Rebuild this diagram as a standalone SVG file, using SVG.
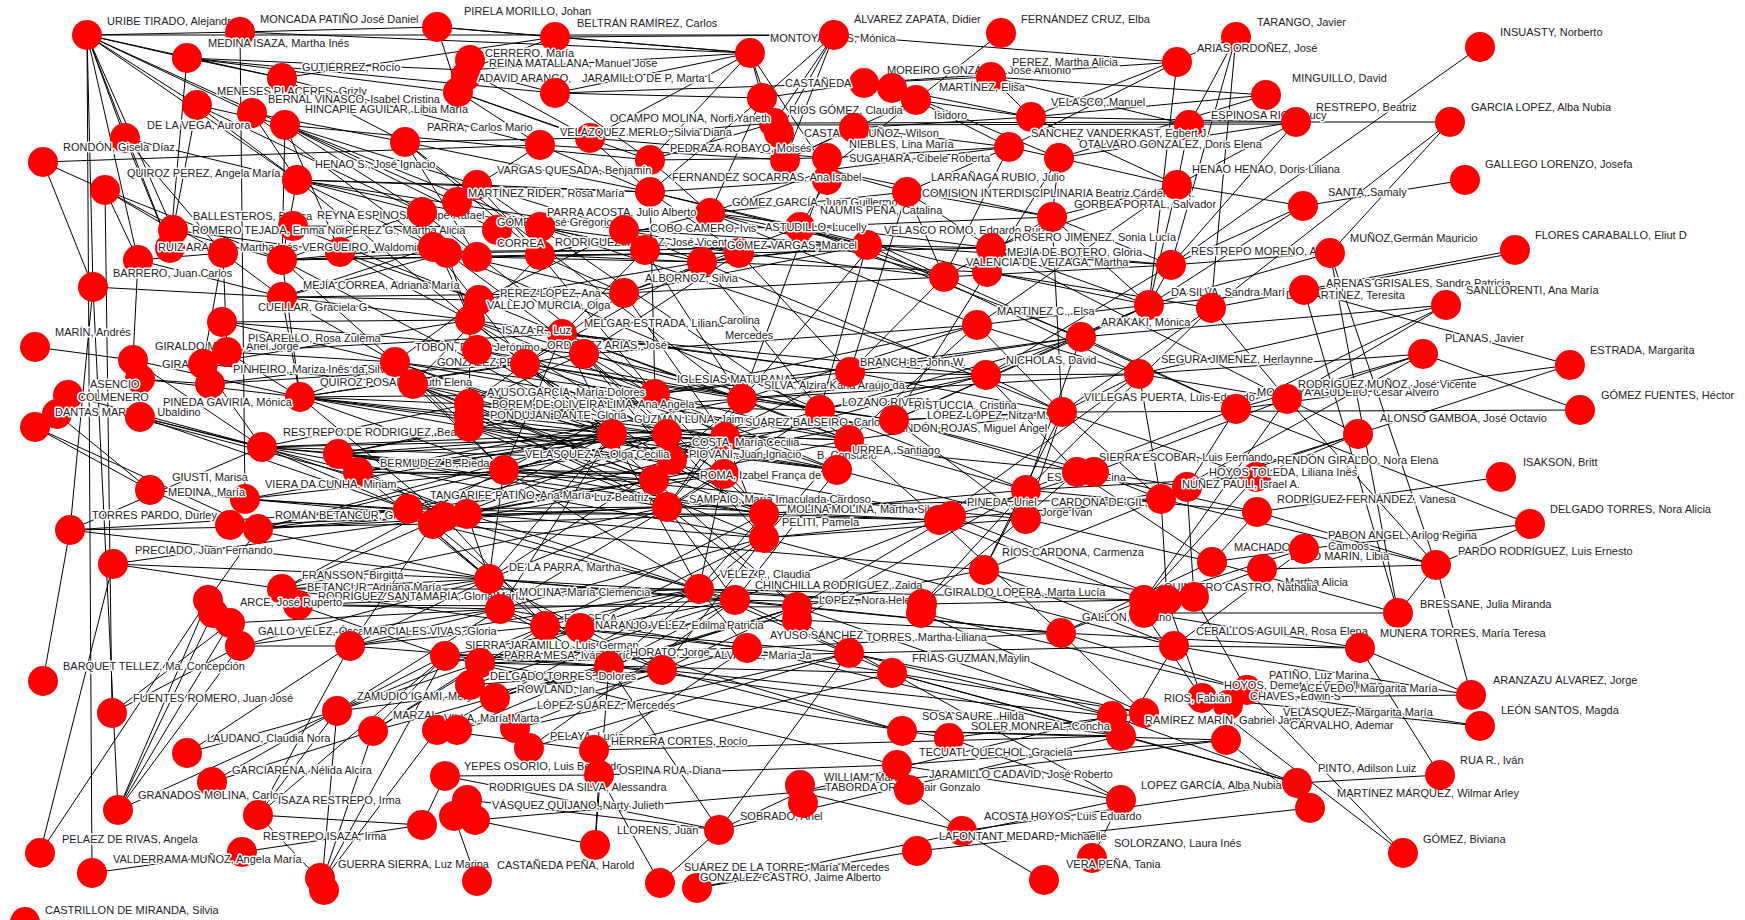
<svg xmlns="http://www.w3.org/2000/svg" width="1745" height="920" viewBox="0 0 1745 920">
<style>
.n circle{fill:#f00}
.n text{font-family:"Liberation Sans",Arial,sans-serif;font-size:11px;fill:#222;stroke:#fff;stroke-width:3px;paint-order:stroke;stroke-linejoin:round}
#connectors path{fill:none;stroke:#000;stroke-width:1}
</style>
<rect width="1745" height="920" fill="#fff"/>
<g id="connectors">
<path d="M87 35L240 32M87 35L834 35M87 35L187 58M87 35L282 78M87 35L197 105M87 35L252 113M87 35L285 125M87 35L297 180M87 35L125 138M87 35L173 230M87 35L93 287M87 35L92 873M87 35L138 260M87 35L170 248M240 32L245 499M240 32L750 53M240 32L437 27M187 58L466 70M187 58L458 92M187 58L282 78M187 58L170 248M187 58L555 93M282 78L405 142M282 78L555 37M282 78L540 145M197 105L297 180M197 105L173 230M197 105L285 125M197 105L422 212M252 113L405 142M252 113L433 247M252 113L297 180M285 125L422 212M285 125L477 185M285 125L540 227M285 125L650 160M285 125L497 230M285 125L340 252M285 125L282 260M285 125L457 202M125 138L297 180M125 138L223 253M125 138L170 248M405 142L590 138M405 142L650 192M405 142L540 255M405 142L477 257M43 162L540 145M43 162L105 190M43 162L93 287M105 190L173 230M105 190L138 260M105 190L223 253M105 190L112 713M105 190L282 260M297 180L477 185M297 180L540 227M297 180L433 247M297 180L422 212M297 180L650 192M297 180L282 260M297 180L624 230M173 230L282 260M173 230L340 252M293 226L540 227M293 226L479 300M282 260L447 253M282 260L477 257M282 260L433 247M282 260L540 255M282 260L422 212M282 260L300 397M340 252L645 250M340 252L479 300M138 260L282 297M138 260L133 360M138 260L223 253M93 287L282 297M93 287L70 530M93 287L118 810M282 297L433 247M282 297L479 300M282 297L447 253M282 297L624 293M282 297L470 320M282 297L395 362M223 253L282 297M223 253L227 352M223 253L203 364"/>
<path d="M437 27L555 37M437 27L458 92M437 27L750 53M555 37L834 35M555 37L466 70M555 37L750 53M466 70L750 53M466 70L555 93M466 70L590 138M458 92L650 160M458 92L590 138M458 92L540 145M555 93L750 53M555 93L864 83M555 93L762 98M555 93L650 160M750 53L774 123M750 53L762 98M750 53L650 160M750 53L590 138M750 53L827 170M834 35L774 123M834 35L779 133M834 35L785 160M834 35L762 98M834 35L1177 62M864 83L1031 117M864 83L1177 62M864 83L762 98M864 83L991 77M762 98L650 192M762 98L710 213M774 123L1296 122M774 125L1296 124M774 123L650 160M774 123L590 138M854 128L1009 147M854 128L785 160M854 128L1031 117M590 138L650 192M590 138L827 158M540 145L785 160M540 145L650 192M540 145L477 185M827 170L1009 147M827 170L710 213M827 170L907 192M827 170L1052 217M827 180L650 192M827 180L800 227M650 160L827 158M650 160L710 213M650 192L867 245M650 192L800 227M650 192L739 253M477 185L650 192M477 185L624 230M477 185L540 255M710 213L944 277M710 213L867 245M710 213L540 255M710 213L991 248M800 227L944 277M800 227L987 272M800 227L624 230M800 227L1052 217M867 245L1171 265M867 245L645 250M867 245L702 262M867 245L991 248M540 227L645 250M540 227L702 262M540 227L739 253M540 255L702 262M540 255L624 293M540 255L739 253M624 230L867 245M624 230L739 253M645 250L874 243M739 253L944 277M739 253L991 248M702 262L987 272M702 262L874 243M447 253L645 250M447 253L624 293M477 257L702 262M477 257L739 253M624 293L867 245M624 293L739 253M624 293L944 277M624 293L800 227M479 300L702 262M479 300L624 230"/>
<path d="M1001 33L916 100M1236 37L1189 125M1236 37L1171 265M1236 37L1211 308M1236 37L1031 117M1177 62L1149 305M1177 62L1009 147M991 77L1031 117M991 77L1189 125M892 88L1009 147M892 88L1059 158M916 100L1031 117M916 100L785 160M916 100L827 170M1266 95L1031 117M1266 95L1059 158M1266 95L991 77M1031 117L1177 185M1031 117L1296 122M1189 125L1177 185M1296 122L1450 122M1296 122L1171 265M1296 122L1059 158M1296 122L1177 185M1009 147L1059 158M1009 147L944 277M1009 147L907 192M1009 147L827 158M1059 158L1052 217M1059 158L987 272M1059 158L1177 185M1177 185L1052 217M1177 185L1149 305M1177 185L991 248M907 192L991 248M907 192L944 277M907 192L1052 217M907 192L710 213M1303 206L1465 180M1303 206L1171 265M1303 206L1177 185M1303 206L1149 305M1052 217L944 277M1052 217L1171 265M1052 217L1149 305M991 248L1171 265M991 248L1149 305M944 277L1171 265M944 277L874 243M987 272L1149 305M987 272L1211 308M1171 265L1480 47M1171 265L1149 305M1171 265L1330 253M1149 305L1304 290M1149 305L1330 253M1211 308L1450 122M1211 308L1304 290M1304 290L1515 250M1304 292L1515 253M1304 290L1570 365M1330 253L1450 122M1330 253L1436 565M1330 253L1398 613"/>
<path d="M1446 305L1139 374M1446 305L1236 409M1446 305L1287 399M1446 305L1081 337M1423 354L1580 410M1423 354L1287 399M1423 354L1236 409M1423 354L1161 499M1423 354L1139 374M1570 365L1358 434M1570 365L1236 409M1580 410L1062 412M1358 434L1256 477M1358 434L1287 399M1358 434L1187 487M1358 434L1161 499M1501 477L1257 512M1530 524L1236 409M1530 524L1304 549M1530 524L1436 565M1436 565L1257 512M1436 565L1262 569M1436 565L1161 499M1436 565L1398 613M1436 565L1471 695M1436 565L1287 399M1398 613L1304 290M1398 613L1144 613M1398 613L1212 562"/>
<path d="M977 325L1139 374M977 325L1062 412M977 325L849 440M977 325L742 399M977 325L1149 305M1149 305L1081 337M1149 305L986 375M1211 308L1062 412M1211 308L1287 399M1081 337L894 420M1081 337L1236 409M1081 337L1026 490M1081 337L850 372M986 375L1062 412M986 375L1139 374M986 375L742 399M986 375L1077 472M986 375L820 410M1139 374L1287 399M1139 374L1062 412M1139 374L1161 499M1139 374L939 520M1062 412L1161 499M1062 412L849 440M1062 412L1026 519M1062 412L1256 477M1062 412L984 570M1062 412L894 420M1236 409L1026 490M1236 409L1187 487M1287 399L1094 472M1287 399L1144 600M894 420L1077 472M894 420L1026 519M894 420L742 399M894 420L1094 472M1077 472L1257 512M1077 472L922 604M1077 472L1212 562M1094 472L1187 487M1094 472L1161 499M1094 472L939 520M1256 477L1026 490M1256 477L1144 600M1187 487L1026 519M1187 487L1194 597M1161 499L939 520M1161 499L1167 600M1161 499L984 570M1257 512L1026 490M1257 512L1212 562M1026 490L849 440M1026 490L984 570M1026 490L922 604M1026 519L1212 562M1026 519L764 538M939 520L1144 600M939 520L764 514M939 520L1061 633M951 516L1167 600M951 516L797 607M984 570L1194 597M984 570L797 607M984 570L1174 646M1212 562L1061 633M1212 562L1304 549M1262 569L1144 613M1304 549L1144 600M1304 549L1174 646M922 604L1144 600M922 604L735 600M1144 600L1061 633M1194 597L1247 690M1167 600L1202 698"/>
<path d="M470 320L655 394M470 320L742 399M470 320L612 434M562 334L742 399M562 334L850 372M562 334L667 434M562 334L849 440M584 354L820 410M584 354L725 437M584 354L469 404M525 364L742 399M525 364L667 460M525 364L837 470M395 362L655 394M395 362L612 434M395 362L469 427M395 362L300 397M413 384L612 434M413 384L725 437M413 384L504 470M477 350L820 410M477 350L655 394M655 394L850 372M655 394L849 440M655 394L837 470M742 399L849 440M742 399L667 507M850 372L986 375M850 372L667 460M469 404L725 437M469 404L667 434M469 404L820 410M469 427L654 480M469 427L724 474M469 427L837 470M612 434L837 470M612 434L764 514M612 434L489 579M725 437L894 420M725 437L764 538M725 437L504 470M820 410L1026 490M820 410L667 507M849 440L939 520M849 440L764 538M849 440L667 434M667 434L837 470M667 434L504 470M672 460L894 420M672 460L467 514M654 480L849 440M654 480L444 517M667 507L939 520M667 507L489 579M667 507L797 607M837 470L1026 519M837 470L735 600M504 470L724 474M504 470L764 514M504 470L699 589M724 474L951 516M724 474L500 609M764 514L1026 490M764 514L545 626M764 538L939 520M764 538L609 666M467 514L764 514M467 514L699 589M444 517L735 600M444 517L612 434M489 579L797 607M489 579L735 600M699 589L922 604M699 589L892 673M735 600L939 520M735 600L849 653M797 607L1061 633M797 607L609 666M500 609L735 600M500 609L662 670"/>
<path d="M282 260L764 514M300 397L837 470M395 362L849 440M262 447L764 538M408 509L939 520M433 524L984 570M504 470L1026 519M489 579L922 604M612 434L1062 412M655 394L1081 337M742 399L1139 374M725 437L1094 472M667 507L1161 499M699 589L1144 600M735 600L1061 633M764 538L1174 646M797 607L1112 716M500 609L892 673M545 626L902 731M445 656L897 765M480 663L949 738M609 666L1121 736M1026 490L797 620M986 375L672 460M977 325L655 394M1081 337L725 437M850 372L1062 412M470 320L850 372M562 334L986 375M584 354L977 325M525 364L894 420M413 384L764 514M469 427L849 440M338 454L725 437M358 472L742 399M245 499L612 434M258 529L667 507M282 589L699 589M298 605L797 607M113 564L444 517M70 530L262 447M300 397L655 394M227 352L562 334M203 364L470 320M222 322L584 354M405 142L742 399M297 180L612 434M433 247L820 410M422 212L655 394M477 185L849 440M540 227L986 375M624 230L1062 412M710 213L977 325M800 227L1081 337M867 245L1139 374M944 277L1236 409M991 248L1287 399M1052 217L1062 412M1171 265L986 375M1149 305L894 420M1211 308L1026 490M1177 185L977 325M907 192L850 372M827 170L742 399M650 192L655 394M645 250L562 334M702 262L525 364M739 253L584 354M624 293L469 404M479 300L395 362M447 253L470 320M540 255L413 384"/>
<path d="M300 397L667 434M300 397L504 470M300 397L444 517M262 447L467 514M262 447L654 480M262 447L725 437M338 454L667 507M338 454L764 514M338 454L444 517M358 472L612 434M358 472L724 474M358 472L489 579M408 509L612 434M408 509L764 538M408 509L545 626M433 524L724 474M433 524L609 666M433 524L350 646M395 362L672 460M395 362L504 470M413 384L667 507M413 384L654 480M470 320L469 427M470 320L724 474M477 350L667 434M477 350L612 434M525 364L612 434M525 364L654 480M562 334L612 434M562 334L504 470M584 354L672 460M584 354L764 514M469 404L654 480M469 416L742 399M469 416L764 538M469 427L667 507M504 470L667 434M504 470L489 579M467 514L654 480M467 514L500 609M444 517L667 507M444 517L545 626M612 434L699 589M612 434L500 609M655 394L764 514M655 394L504 470M667 434L764 538M672 460L764 514M672 460L489 579M654 480L797 607M667 507L735 600M725 437L667 507M724 474L699 589M742 399L672 460M764 514L699 589M764 538L500 609M489 579L662 670M500 609L609 666M545 626L699 589M580 628L764 538M445 656L735 600M480 663L699 589M609 666L797 607M662 670L764 538M699 589L747 648M735 600L609 666M797 607L662 670M282 589L444 517M282 589L667 507M298 605L489 579M298 605L445 656M245 499L408 509M245 499L467 514M258 529L504 470M230 525L444 517M350 646L489 579M350 646L699 589M240 646L489 579M240 646L500 609M337 711L500 609M337 711L480 663M373 731L545 626M373 731L445 656M470 685L735 600M495 698L797 607M437 730L699 589M457 730L609 666M515 728L662 670M529 748L735 600M594 750L747 648M300 397L612 434M262 447L672 460M338 454L655 394M358 472L667 434M408 509L725 437M433 524L764 514M282 297L300 397M282 260L395 362M340 252L470 320M433 247L525 364M447 253L584 354M479 300L562 334M422 212L470 320M540 255L655 394M645 250L742 399M624 293L725 437M702 262L820 410M739 253L850 372M867 245L820 410M944 277L850 372M987 272L894 420M874 243L742 399"/>
<path d="M35 347L133 360M133 360L300 397M133 360L262 447M140 379L300 397M140 379L210 384M227 352L395 362M227 352L300 397M203 364L262 447M203 364L413 384M210 384L525 364M210 384L395 362M300 397L584 354M300 397L469 404M300 397L525 364M300 397L469 427M68 395L262 447M57 414L150 490M35 427L150 490M35 427L258 529M140 417L262 447M140 417L358 472M140 419L358 476M140 417L408 509M262 447L469 404M262 447L504 470M262 447L408 509M262 447L612 434M338 454L612 434M338 454L504 470M338 454L469 427M358 472L654 480M358 472L467 514M150 490L245 499M150 490L230 525M245 499L504 470M245 499L444 517M230 525L489 579M258 529L467 514M258 529L612 434M258 529L408 509M408 509L667 507M408 509L724 474M408 509L489 579M433 524L667 434M433 524L699 589M70 530L408 509M70 530L433 524M70 530L489 579M70 530L43 681M113 564L489 579M113 564L282 589M113 564L40 853M282 589L504 470M282 589L489 579M282 589L545 626M298 605L699 589M298 605L500 609M208 600L258 529M208 600L40 853M208 600L118 810M222 322L470 320M222 322L395 362"/>
<path d="M240 646L350 646M240 646L118 810M240 646L112 713M213 613L118 810M230 623L118 810M230 623L500 609M350 646L545 626M350 646L500 609M350 646L609 666M350 646L258 815M112 713L230 623M337 711L212 782M337 711L187 753M337 711L258 815M337 711L545 626M337 711L662 670M337 711L445 656M373 731L212 782M373 731L322 882M373 731L609 666M373 731L480 663M187 753L350 646M118 810L337 711M258 815L422 825M258 815L445 656M422 825L242 852M422 825L445 776M322 882L258 815M322 882L337 711M322 882L445 656M322 882L437 730M92 873L242 852"/>
<path d="M545 626L849 653M545 626L747 648M580 628L797 620M797 620L1061 633M797 620L892 673M445 656L747 648M445 656L662 670M480 663L849 653M480 663L609 666M609 666L892 673M609 666L719 830M662 670L1112 716M662 670L902 731M747 648L1121 736M747 648L1061 633M849 653L1144 713M849 653L1112 716M849 653L1174 646M470 685L662 670M495 698L609 666M437 730L594 750M457 730L747 648M515 728L849 653M529 748L849 653M594 750L892 673M594 750L1121 736M445 776L599 775M445 776L719 830M599 775L897 765M467 800L719 830M454 816L595 845M475 820L800 792M595 845L599 775M595 845L609 666M660 883L599 775M660 883L719 830M697 888L917 851M697 888L1121 800M719 830L800 792M719 830L849 653M719 830L1121 736M800 792L1112 716M800 792L962 831M800 792L1226 740M477 881L454 816"/>
<path d="M1061 633L1360 648M1061 633L1247 690M1061 633L1144 713M1144 613L1360 648M1144 613L1202 698M1174 646L1360 648M1174 646L1471 695M1174 646L1121 736M892 673L1121 736M892 673L1121 800M892 673L1144 713M892 673L1297 783M1247 690L1403 853M1247 690L1480 726M1202 698L1471 695M1202 698L1480 726M1202 698L1403 853M1112 716L1297 783M1121 736L1297 783M1226 740L1310 808M902 731L1121 736M902 731L1226 740M949 738L1121 800M949 738L1144 713M897 765L1121 800M897 765L1226 740M909 790L962 831M917 851L1310 808M962 831L1297 783M1044 880L962 831M1092 858L1121 800M1360 648L1471 695M1360 648L1440 775M1297 783L1440 775M921 613L1144 713M921 613L1247 690"/>
</g>
<g id="nodes">
<g id="n001" class="n"><circle cx="87" cy="35" r="15"/><text x="107" y="25">URIBE TIRADO, Alejandro</text></g>
<g id="n002" class="n"><circle cx="240" cy="32" r="15"/><text x="260" y="23">MONCADA PATIÑO José Daniel</text></g>
<g id="n003" class="n"><circle cx="187" cy="58" r="15"/><text x="208" y="47">MEDINA ISAZA, Martha Inés</text></g>
<g id="n004" class="n"><circle cx="282" cy="78" r="15"/><text x="302" y="71">GUTIÉRREZ, Rocío</text></g>
<g id="n005" class="n"><circle cx="197" cy="105" r="15"/><text x="217" y="95">MENESES PLACERES, Grizly</text></g>
<g id="n006" class="n"><circle cx="252" cy="113" r="15"/><text x="268" y="103">BERNAL VINASCO, Isabel Cristina</text></g>
<g id="n007" class="n"><circle cx="285" cy="125" r="15"/><text x="305" y="113">HINCAPIE AGUILAR, Libia María</text></g>
<g id="n008" class="n"><circle cx="125" cy="138" r="15"/><text x="147" y="129">DE LA VEGA, Aurora</text></g>
<g id="n009" class="n"><circle cx="405" cy="142" r="15"/><text x="427" y="131">PARRA, Carlos Mario</text></g>
<g id="n010" class="n"><circle cx="43" cy="162" r="15"/><text x="63" y="151">RONDÓN, Gisela Díaz</text></g>
<g id="n011" class="n"><circle cx="105" cy="190" r="15"/><text x="127" y="177">QUIROZ PEREZ, Angela María</text></g>
<g id="n012" class="n"><circle cx="297" cy="180" r="15"/><text x="315" y="168">HENAO S., José Ignacio</text></g>
<g id="n013" class="n"><circle cx="173" cy="230" r="15"/><text x="193" y="220">BALLESTEROS, Blanca</text></g>
<g id="n014" class="n"><circle cx="293" cy="226" r="15"/><text x="317" y="219">REYNA ESPINOSA, Felipe Rafael</text></g>
<g id="n015" class="n"><circle cx="170" cy="248" r="15"/><text x="192" y="234">ROMERO TEJADA, Emma Norma</text></g>
<g id="n016" class="n"><circle cx="340" cy="252" r="15"/><text x="345" y="234">PÉREZ G., Martha Alicia</text></g>
<g id="n017" class="n"><circle cx="138" cy="260" r="15"/><text x="158" y="251">RUIZ ARANGO, Martha Inés</text></g>
<g id="n018" class="n"><circle cx="282" cy="260" r="15"/><text x="302" y="251">VERGUEIRO, Waldomiro</text></g>
<g id="n019" class="n"><circle cx="223" cy="253" r="15"/></g>
<g id="n020" class="n"><circle cx="93" cy="287" r="15"/><text x="113" y="277">BARRERO, Juan Carlos</text></g>
<g id="n021" class="n"><circle cx="282" cy="297" r="15"/><text x="303" y="289">MEJÍA CORREA, Adriana María</text></g>
<g id="n022" class="n"><circle cx="433" cy="247" r="15"/></g>
<g id="n023" class="n"><circle cx="422" cy="212" r="15"/></g>
<g id="n024" class="n"><circle cx="437" cy="27" r="15"/><text x="464" y="15">PIRELA MORILLO, Johan</text></g>
<g id="n025" class="n"><circle cx="555" cy="37" r="15"/><text x="577" y="27">BELTRÁN RAMÍREZ, Carlos</text></g>
<g id="n026" class="n"><circle cx="470" cy="60" r="15"/><text x="485" y="57">CERRERO, María</text></g>
<g id="n027" class="n"><circle cx="466" cy="76" r="15"/><text x="489" y="67">REINA MATALLANA, Manuel Jose</text></g>
<g id="n028" class="n"><circle cx="458" cy="92" r="15"/><text x="478" y="82">ADAVID ARANGO,</text></g>
<g id="n029" class="n"><circle cx="555" cy="93" r="15"/><text x="582" y="82">JARAMILLO DE P, Marta L</text></g>
<g id="n030" class="n"><circle cx="750" cy="53" r="15"/><text x="770" y="42">MONTOYA RÍOS, Mónica</text></g>
<g id="n031" class="n"><circle cx="834" cy="35" r="15"/><text x="854" y="23">ÁLVAREZ ZAPATA, Didier</text></g>
<g id="n032" class="n"><circle cx="864" cy="83" r="15"/><text x="887" y="74">MOREIRO GONZÁLEZ, José Antonio</text></g>
<g id="n033" class="n"><circle cx="762" cy="98" r="15"/><text x="785" y="87">CASTAÑEDA</text></g>
<g id="n034" class="n"><circle cx="774" cy="123" r="15"/><text x="789" y="114">RIOS GÓMEZ, Claudia</text></g>
<g id="n035" class="n"><circle cx="779" cy="133" r="15"/></g>
<g id="n036" class="n"><text x="804" y="137">CASTAÑO MUÑOZ, Wilson</text><circle cx="854" cy="128" r="15"/></g>
<g id="n037" class="n"><circle cx="590" cy="138" r="15"/><text x="610" y="122">OCAMPO MOLINA, Norfi Yaneth</text></g>
<g id="n038" class="n"><circle cx="540" cy="145" r="15"/><text x="560" y="136">VELÁZQUEZ MERLO, Silvia Diana</text></g>
<g id="n039" class="n"><circle cx="827" cy="158" r="15"/><text x="849" y="148">NIEBLES, Lina María</text></g>
<g id="n040" class="n"><circle cx="827" cy="180" r="15"/><text x="849" y="162">SUGAHARA, Cibele Roberta</text></g>
<g id="n041" class="n"><circle cx="785" cy="160" r="15"/></g>
<g id="n042" class="n"><circle cx="650" cy="160" r="15"/><text x="670" y="152">PEDRAZA ROBAYO, Moisés</text></g>
<g id="n043" class="n"><circle cx="650" cy="192" r="15"/><text x="672" y="181">FERNANDEZ SOCARRAS, Ana Isabel</text></g>
<g id="n044" class="n"><circle cx="477" cy="185" r="15"/><text x="497" y="174">VARGAS QUESADA, Benjamín</text></g>
<g id="n045" class="n"><circle cx="457" cy="202" r="15"/><text x="468" y="197">MARTÍNEZ RIDER, Rosa María</text></g>
<g id="n046" class="n"><circle cx="710" cy="213" r="15"/><text x="732" y="206">GÓMEZ GARCÍA, Juan Guillermo</text></g>
<g id="n047" class="n"><circle cx="800" cy="227" r="15"/><text x="820" y="214">NAUMIS PEÑA, Catalina</text></g>
<g id="n048" class="n"><circle cx="867" cy="245" r="15"/><text x="884" y="234">VELASCO ROMO, Edgardo Ruiz</text></g>
<g id="n049" class="n"><circle cx="497" cy="230" r="15"/><text x="497" y="226">GÓMEZ, José Gregorio</text></g>
<g id="n050" class="n"><circle cx="540" cy="227" r="15"/><text x="547" y="216">PARRA ACOSTA, Julio Alberto</text></g>
<g id="n051" class="n"><circle cx="540" cy="255" r="15"/><text x="555" y="246">RODRIGUEZ MUÑOZ, José Vicente</text></g>
<g id="n052" class="n"><circle cx="477" cy="257" r="15"/><text x="497" y="247">CORREA</text></g>
<g id="n053" class="n"><circle cx="624" cy="230" r="15"/><text x="650" y="232">COBO CAMERO, Ivis</text></g>
<g id="n054" class="n"><circle cx="645" cy="250" r="15"/></g>
<g id="n055" class="n"><circle cx="739" cy="253" r="15"/><text x="765" y="231">ASTUDILLO, Lucelly</text></g>
<g id="n056" class="n"><circle cx="702" cy="262" r="15"/><text x="727" y="249">GÓMEZ VARGAS, Maricel</text></g>
<g id="n057" class="n"><circle cx="447" cy="253" r="15"/></g>
<g id="n058" class="n"><circle cx="624" cy="293" r="15"/><text x="645" y="282">ALBORNOZ, Silvia</text></g>
<g id="n059" class="n"><circle cx="479" cy="300" r="15"/><text x="500" y="297">PÉREZ LÓPEZ, Ana</text></g>
<g id="n060" class="n"><circle cx="1001" cy="33" r="15"/><text x="1021" y="23">FERNÁNDEZ CRUZ, Elba</text></g>
<g id="n061" class="n"><circle cx="1236" cy="37" r="15"/><text x="1257" y="26">TARANGO, Javier</text></g>
<g id="n062" class="n"><circle cx="1177" cy="62" r="15"/><text x="1197" y="52">ARIAS ORDOÑEZ, José</text></g>
<g id="n063" class="n"><circle cx="991" cy="77" r="15"/><text x="1012" y="66">PEREZ, Martha Alicia</text></g>
<g id="n064" class="n"><circle cx="892" cy="88" r="15"/></g>
<g id="n065" class="n"><circle cx="916" cy="100" r="15"/><text x="939" y="91">MARTÍNEZ, Elisa</text><text x="934" y="119">Isidoro</text></g>
<g id="n066" class="n"><circle cx="1266" cy="95" r="15"/><text x="1292" y="82">MINGUILLO, David</text></g>
<g id="n067" class="n"><circle cx="1031" cy="117" r="15"/><text x="1051" y="106">VELASCO, Manuel</text></g>
<g id="n068" class="n"><circle cx="1189" cy="125" r="15"/><text x="1211" y="119">ESPINOSA RICO, Lucy</text></g>
<g id="n069" class="n"><circle cx="1296" cy="122" r="15"/><text x="1316" y="111">RESTREPO, Beatriz</text></g>
<g id="n070" class="n"><circle cx="1009" cy="147" r="15"/><text x="1031" y="137">SANCHEZ VANDERKAST, Egbert J.</text></g>
<g id="n071" class="n"><circle cx="1059" cy="158" r="15"/><text x="1079" y="148">OTALVARO GONZALEZ, Doris Elena</text></g>
<g id="n072" class="n"><circle cx="907" cy="192" r="15"/><text x="931" y="181">LARRAÑAGA RUBIO, Julio</text><text x="922" y="197">COMISION INTERDISCIPLINARIA Beatriz Cárdenas R.</text></g>
<g id="n073" class="n"><circle cx="1177" cy="185" r="15"/><text x="1192" y="173">HENAO HENAO, Doris Liliana</text></g>
<g id="n074" class="n"><circle cx="1052" cy="217" r="15"/><text x="1074" y="208">GORBEA PORTAL, Salvador</text></g>
<g id="n075" class="n"><circle cx="991" cy="248" r="15"/><text x="1014" y="241">ROSERO JIMÉNEZ, Sonia Lucía</text></g>
<g id="n076" class="n"><text x="1007" y="256">MEJÍA DE BOTERO, Gloria</text><circle cx="987" cy="272" r="15"/></g>
<g id="n077" class="n"><circle cx="944" cy="277" r="15"/><text x="966" y="266">VALENCIA DE VEIZAGA, Martha</text></g>
<g id="n078" class="n"><circle cx="1171" cy="265" r="15"/><text x="1191" y="255">RESTREPO MORENO, Angela</text></g>
<g id="n079" class="n"><circle cx="1149" cy="305" r="15"/><text x="1171" y="296">DA SILVA, Sandra María</text></g>
<g id="n080" class="n"><circle cx="1211" cy="308" r="15"/><text x="1286" y="299">DE MARTINEZ, Teresita</text></g>
<g id="n081" class="n"><circle cx="1304" cy="290" r="15"/><text x="1326" y="287">ARENAS GRISALES, Sandra Patricia</text></g>
<g id="n082" class="n"><circle cx="1480" cy="47" r="15"/><text x="1500" y="36">INSUASTY, Norberto</text></g>
<g id="n083" class="n"><circle cx="1450" cy="122" r="15"/><text x="1471" y="111">GARCIA LOPEZ, Alba Nubia</text></g>
<g id="n084" class="n"><circle cx="1465" cy="180" r="15"/><text x="1485" y="168">GALLEGO LORENZO, Josefa</text></g>
<g id="n085" class="n"><circle cx="1303" cy="206" r="15"/><text x="1328" y="196">SANTA, Samaly</text></g>
<g id="n086" class="n"><circle cx="1330" cy="253" r="15"/><text x="1350" y="242">MUÑOZ,Germán Mauricio</text></g>
<g id="n087" class="n"><circle cx="1515" cy="250" r="15"/><text x="1535" y="239">FLORES CARABALLO, Eliut D</text></g>
<g id="n088" class="n"><circle cx="1446" cy="305" r="15"/><text x="1466" y="294">SANLLORENTI, Ana María</text></g>
<g id="n089" class="n"><circle cx="222" cy="322" r="15"/><text x="258" y="311">CUELLAR, Graciela G.</text></g>
<g id="n090" class="n"><circle cx="35" cy="347" r="15"/><text x="55" y="336">MARÍN, Andrés</text></g>
<g id="n091" class="n"><circle cx="133" cy="360" r="15"/><text x="155" y="350">GIRALDO MORA, Ariel Jorge</text></g>
<g id="n092" class="n"><circle cx="140" cy="379" r="15"/><text x="162" y="368">GIRALDO</text></g>
<g id="n093" class="n"><circle cx="227" cy="352" r="15"/><text x="248" y="342">PISARELLO, Rosa Zulema</text></g>
<g id="n094" class="n"><circle cx="203" cy="364" r="15"/></g>
<g id="n095" class="n"><circle cx="210" cy="384" r="15"/><text x="233" y="373">PINHEIRO, Mariza Inês da Silva</text></g>
<g id="n096" class="n"><circle cx="300" cy="397" r="15"/><text x="320" y="386">QUIROZ POSADA, Ruth Elena</text></g>
<g id="n097" class="n"><circle cx="68" cy="395" r="15"/><text x="90" y="388">ASENCIO</text></g>
<g id="n098" class="n"><circle cx="57" cy="414" r="15"/><text x="78" y="401">COLMENERO</text></g>
<g id="n099" class="n"><circle cx="35" cy="427" r="15"/><text x="55" y="416">DANTAS MARTINS, Ubaldino</text></g>
<g id="n100" class="n"><circle cx="140" cy="417" r="15"/><text x="163" y="406">PINEDA GAVIRIA, Mónica</text></g>
<g id="n101" class="n"><circle cx="262" cy="447" r="15"/><text x="283" y="436">RESTREPO DE RODRIGUEZ, Beatriz</text></g>
<g id="n102" class="n"><circle cx="338" cy="454" r="15"/></g>
<g id="n103" class="n"><circle cx="358" cy="472" r="15"/><text x="380" y="467">BERMUDEZ B., Piedad</text></g>
<g id="n104" class="n"><circle cx="150" cy="490" r="15"/><text x="172" y="481">GIUSTI, Marisa</text></g>
<g id="n105" class="n"><circle cx="245" cy="499" r="15"/><text x="265" y="488">VIERA DA CUNHA, Miriam</text></g>
<g id="n106" class="n"><text x="168" y="496">MEDINA, María</text><circle cx="230" cy="525" r="15"/></g>
<g id="n107" class="n"><circle cx="258" cy="529" r="15"/><text x="275" y="519">ROMÁN BETANCUR, Gloria Elena</text></g>
<g id="n108" class="n"><circle cx="70" cy="530" r="15"/><text x="92" y="519">TORRES PARDO, Durley</text></g>
<g id="n109" class="n"><circle cx="408" cy="509" r="15"/><text x="430" y="499">TANGARIFE PATIÑO, Ana María</text></g>
<g id="n110" class="n"><circle cx="113" cy="564" r="15"/><text x="135" y="554">PRECIADO, Juan Fernando</text></g>
<g id="n111" class="n"><circle cx="282" cy="589" r="15"/><text x="302" y="579">FRANSSON, Birgitta</text></g>
<g id="n112" class="n"><circle cx="298" cy="605" r="15"/><text x="307" y="591">BETANCUR, Adriana María</text><text x="318" y="600">RODRÍGUEZ SANTAMARÍA, Gloria María</text></g>
<g id="n113" class="n"><circle cx="208" cy="600" r="15"/><text x="240" y="606">ARCE, José Ruperto</text></g>
<g id="n114" class="n"><circle cx="395" cy="362" r="15"/><text x="415" y="351">TOBÓN, Daniel Jerónimo</text></g>
<g id="n115" class="n"><circle cx="413" cy="384" r="15"/><text x="437" y="366">GONZÁLEZ PÉREZ</text></g>
<g id="n116" class="n"><circle cx="433" cy="524" r="15"/></g>
<g id="n117" class="n"><circle cx="470" cy="320" r="15"/><text x="487" y="309">VALLEJO MURCIA, Olga</text></g>
<g id="n118" class="n"><circle cx="562" cy="334" r="15"/><text x="584" y="327">MELGAR ESTRADA, Liliana</text></g>
<g id="n119" class="n"><circle cx="477" cy="350" r="15"/><text x="502" y="334">ISAZA R., Luz</text></g>
<g id="n120" class="n"><circle cx="525" cy="364" r="15"/><text x="547" y="349">ORDOÑEZ ARIAS, José</text></g>
<g id="n121" class="n"><circle cx="584" cy="354" r="15"/><text x="719" y="324">Carolina</text><text x="725" y="339">Mercedes</text></g>
<g id="n122" class="n"><circle cx="655" cy="394" r="15"/><text x="677" y="383">IGLESIAS MATURANA</text></g>
<g id="n123" class="n"><circle cx="742" cy="399" r="15"/><text x="764" y="389">SILVA, Alzira Karla Araújo da</text></g>
<g id="n124" class="n"><circle cx="850" cy="372" r="15"/><text x="860" y="366">BRANCH B., John W.</text></g>
<g id="n125" class="n"><circle cx="469" cy="404" r="15"/><text x="487" y="396">AYUSO GARCÍA, María Dolores</text></g>
<g id="n126" class="n"><circle cx="469" cy="416" r="15"/><text x="492" y="408">BOREM DE OLIVEIRA LIMA, Ana Angela</text></g>
<g id="n127" class="n"><circle cx="469" cy="427" r="15"/><text x="490" y="419">PONDUJÁN DANTE, Gloria</text></g>
<g id="n128" class="n"><circle cx="820" cy="410" r="15"/><text x="842" y="406">LOZANO RIVERA</text></g>
<g id="n129" class="n"><circle cx="612" cy="434" r="15"/><text x="634" y="423">GUZMÁN LUNA, Jaime</text></g>
<g id="n130" class="n"><circle cx="725" cy="437" r="15"/><text x="745" y="426">SUÁREZ BALSEIRO, Carlos A.</text></g>
<g id="n131" class="n"><circle cx="667" cy="434" r="15"/><text x="689" y="458">PIOVANI, Juan Ignacio</text></g>
<g id="n132" class="n"><circle cx="672" cy="460" r="15"/><text x="692" y="446">COSTA, María Cecilia</text></g>
<g id="n133" class="n"><text x="594" y="501">Luz Beatriz</text><circle cx="654" cy="480" r="15"/></g>
<g id="n134" class="n"><circle cx="667" cy="507" r="15"/><text x="689" y="503">SAMPAIO, María Imaculada Cardoso</text></g>
<g id="n135" class="n"><circle cx="849" cy="440" r="15"/><text x="890" y="432">RENDÓN ROJAS, Miguel Ángel</text><text x="817" y="459">B. Consuelo</text></g>
<g id="n136" class="n"><circle cx="837" cy="470" r="15"/><text x="852" y="454">URREA, Santiago</text></g>
<g id="n137" class="n"><circle cx="504" cy="470" r="15"/><text x="525" y="458">VELASQUEZ A., Olga Cecilia</text></g>
<g id="n138" class="n"><circle cx="724" cy="474" r="15"/><text x="700" y="479">ROMA, Izabel França de</text></g>
<g id="n139" class="n"><circle cx="764" cy="514" r="15"/><text x="787" y="513">MOLINA MOLINA, Martha Silvia</text></g>
<g id="n140" class="n"><circle cx="764" cy="538" r="15"/><text x="782" y="526">PELITI, Pamela</text></g>
<g id="n141" class="n"><circle cx="467" cy="514" r="15"/></g>
<g id="n142" class="n"><circle cx="444" cy="517" r="15"/></g>
<g id="n143" class="n"><circle cx="489" cy="579" r="15"/><text x="509" y="571">DE LA PARRA, Martha</text></g>
<g id="n144" class="n"><circle cx="699" cy="589" r="15"/><text x="720" y="578">VÉLEZ P., Claudia</text></g>
<g id="n145" class="n"><circle cx="735" cy="600" r="15"/><text x="755" y="589">CHINCHILLA RODRÍGUEZ, Zaida</text></g>
<g id="n146" class="n"><circle cx="797" cy="607" r="15"/><text x="819" y="604">LOPEZ, Nora Helena</text></g>
<g id="n147" class="n"><circle cx="500" cy="609" r="15"/><text x="519" y="596">MOLINA, María Clemencia</text></g>
<g id="n148" class="n"><circle cx="977" cy="325" r="15"/><text x="997" y="315">MARTINEZ C., Elsa</text></g>
<g id="n149" class="n"><circle cx="1081" cy="337" r="15"/><text x="1101" y="326">ARAKAKI, Mónica</text></g>
<g id="n150" class="n"><circle cx="986" cy="375" r="15"/><text x="1006" y="364">NICHOLAS, David</text></g>
<g id="n151" class="n"><circle cx="1139" cy="374" r="15"/><text x="1161" y="363">SEGURA JIMÉNEZ, Herlaynne</text></g>
<g id="n152" class="n"><circle cx="1062" cy="412" r="15"/><text x="1084" y="401">VILLEGAS PUERTA, Luis Eduardo</text></g>
<g id="n153" class="n"><circle cx="1236" cy="409" r="15"/><text x="1257" y="396">MONTOYA AGUDELO, César Alveiro</text></g>
<g id="n154" class="n"><circle cx="1287" cy="399" r="15"/><text x="1298" y="388">RODRÍGUEZ MUÑOZ, José Vicente</text></g>
<g id="n155" class="n"><circle cx="894" cy="420" r="15"/><text x="914" y="409">RISTUCCIA, Cristina</text><text x="927" y="419">LÓPEZ LÓPEZ, Nitza M.</text></g>
<g id="n158" class="n"><circle cx="1026" cy="490" r="15"/><text x="1047" y="481">ESTRADA, Lina</text></g>
<g id="n156" class="n"><circle cx="1077" cy="472" r="15"/><text x="1099" y="461">SIERRA ESCOBAR, Luis Fernando</text></g>
<g id="n157" class="n"><circle cx="1094" cy="472" r="15"/></g>
<g id="n159" class="n"><circle cx="1256" cy="477" r="15"/><text x="1277" y="464">RENDÓN GIRALDO, Nora Elena</text></g>
<g id="n160" class="n"><circle cx="1187" cy="487" r="15"/><text x="1209" y="476">HOYOS TOLEDA, Liliana Inés</text></g>
<g id="n161" class="n"><circle cx="1161" cy="499" r="15"/><text x="1182" y="488">NÚÑEZ PAULI, Israel A.</text></g>
<g id="n162" class="n"><circle cx="1257" cy="512" r="15"/><text x="1277" y="503">RODRÍGUEZ FERNÁNDEZ, Vanesa</text></g>
<g id="n165" class="n"><circle cx="939" cy="520" r="15"/><text x="1041" y="516">Jorge Ivan</text></g>
<g id="n163" class="n"><circle cx="1026" cy="519" r="15"/><text x="1051" y="506">CARDONA DE GIL,</text></g>
<g id="n164" class="n"><circle cx="951" cy="516" r="15"/><text x="967" y="506">PINEDA, Uriel</text></g>
<g id="n166" class="n"><circle cx="984" cy="570" r="15"/><text x="1002" y="556">RÍOS CARDONA, Carmenza</text></g>
<g id="n167" class="n"><circle cx="1212" cy="562" r="15"/><text x="1234" y="551">MACHADO</text><text x="1328" y="550">Campos</text></g>
<g id="n168" class="n"><circle cx="1262" cy="569" r="15"/><text x="1290" y="560">LUGO MARÍN, Libia</text><text x="1285" y="586">Martha Alicia</text></g>
<g id="n169" class="n"><circle cx="1304" cy="549" r="15"/><text x="1328" y="539">PABON ANGEL, Arilog Regina</text></g>
<g id="n170" class="n"><circle cx="922" cy="604" r="15"/><text x="944" y="596">GIRALDO LOPERA, Marta Lucía</text></g>
<g id="n171" class="n"><circle cx="1144" cy="600" r="15"/><text x="1164" y="591">QUINTERO CASTRO, Nathalia</text></g>
<g id="n172" class="n"><circle cx="1167" cy="600" r="15"/></g>
<g id="n173" class="n"><circle cx="1194" cy="597" r="15"/></g>
<g id="n174" class="n"><circle cx="1423" cy="354" r="15"/><text x="1445" y="342">PLANAS, Javier</text></g>
<g id="n175" class="n"><circle cx="1570" cy="365" r="15"/><text x="1590" y="354">ESTRADA, Margarita</text></g>
<g id="n176" class="n"><circle cx="1580" cy="410" r="15"/><text x="1601" y="399">GÓMEZ FUENTES, Héctor</text></g>
<g id="n177" class="n"><circle cx="1358" cy="434" r="15"/><text x="1380" y="422">ALONSO GAMBOA, José Octavio</text></g>
<g id="n178" class="n"><circle cx="1501" cy="477" r="15"/><text x="1523" y="466">ISAKSON, Britt</text></g>
<g id="n179" class="n"><circle cx="1530" cy="524" r="15"/><text x="1550" y="513">DELGADO TORRES, Nora Alicia</text></g>
<g id="n180" class="n"><circle cx="1436" cy="565" r="15"/><text x="1458" y="555">PARDO RODRÍGUEZ, Luis Ernesto</text></g>
<g id="n181" class="n"><circle cx="1398" cy="613" r="15"/><text x="1420" y="608">BRESSANE, Julia Miranda</text></g>
<g id="n182" class="n"><circle cx="240" cy="646" r="15"/><text x="258" y="635">GALLO VÉLEZ, Óscar</text></g>
<g id="n183" class="n"><circle cx="350" cy="646" r="15"/><text x="363" y="635">MARCIALES VIVAS, Gloria</text></g>
<g id="n184" class="n"><circle cx="230" cy="623" r="15"/></g>
<g id="n185" class="n"><circle cx="213" cy="613" r="15"/></g>
<g id="n186" class="n"><circle cx="43" cy="681" r="15"/><text x="63" y="670">BARQUET TELLEZ, Ma. Concepción</text></g>
<g id="n187" class="n"><circle cx="112" cy="713" r="15"/><text x="133" y="702">FUENTES ROMERO, Juan José</text></g>
<g id="n188" class="n"><circle cx="337" cy="711" r="15"/><text x="357" y="700">ZAMUDIO IGAMI, Mery</text></g>
<g id="n189" class="n"><circle cx="373" cy="731" r="15"/><text x="393" y="719">MARZAL</text></g>
<g id="n190" class="n"><circle cx="187" cy="753" r="15"/><text x="207" y="742">LAUDANO, Claudia Nora</text></g>
<g id="n191" class="n"><circle cx="212" cy="782" r="15"/><text x="232" y="774">GARCIARENA, Nélida Alcira</text></g>
<g id="n192" class="n"><circle cx="118" cy="810" r="15"/><text x="138" y="799">GRANADOS MOLINA, Carlos</text></g>
<g id="n193" class="n"><circle cx="258" cy="815" r="15"/><text x="278" y="804">ISAZA RESTREPO, Irma</text></g>
<g id="n194" class="n"><circle cx="422" cy="825" r="15"/></g>
<g id="n195" class="n"><circle cx="40" cy="853" r="15"/><text x="62" y="843">PELAEZ DE RIVAS, Angela</text></g>
<g id="n196" class="n"><circle cx="242" cy="852" r="15"/><text x="263" y="840">RESTREPO ISAZA, Irma</text></g>
<g id="n197" class="n"><circle cx="92" cy="873" r="15"/><text x="113" y="863">VALDERRAMA MUÑOZ, Angela María</text></g>
<g id="n198" class="n"><circle cx="320" cy="878" r="15"/><text x="338" y="868">GUERRA SIERRA, Luz Marina</text></g>
<g id="n199" class="n"><circle cx="324" cy="890" r="15"/></g>
<g id="n200" class="n"><circle cx="25" cy="922" r="15"/><text x="45" y="914">CASTRILLON DE MIRANDA, Silvia</text></g>
<g id="n201" class="n"><circle cx="545" cy="626" r="15"/><text x="564" y="622">FONSECA</text></g>
<g id="n202" class="n"><circle cx="580" cy="628" r="15"/><text x="595" y="629">NARANJO VÉLEZ, Edilma</text><text x="727" y="629">Patricia</text></g>
<g id="n203" class="n"><circle cx="797" cy="620" r="15"/></g>
<g id="n204" class="n"><circle cx="445" cy="656" r="15"/><text x="465" y="649">SIERRA JARAMILLO, Luis German</text></g>
<g id="n205" class="n"><circle cx="480" cy="663" r="15"/><text x="504" y="659">PARRA MESA, Iván Darío</text></g>
<g id="n206" class="n"><circle cx="609" cy="666" r="15"/><text x="630" y="656">HORATO, Jorge</text></g>
<g id="n207" class="n"><circle cx="662" cy="670" r="15"/><text x="714" y="659">ÁLVAREZ, María Ja</text></g>
<g id="n208" class="n"><circle cx="747" cy="648" r="15"/><text x="770" y="639">AYUSO SÁNCHEZ</text></g>
<g id="n209" class="n"><circle cx="849" cy="653" r="15"/><text x="866" y="641">TORRES, Martha Liliana</text></g>
<g id="n210" class="n"><circle cx="470" cy="685" r="15"/><text x="490" y="680">DELGADO TORRES, Dolores</text></g>
<g id="n211" class="n"><circle cx="495" cy="698" r="15"/><text x="517" y="693">ROWLAND, Ian</text></g>
<g id="n212" class="n"><circle cx="515" cy="728" r="15"/><text x="537" y="709">LÓPEZ SUÁREZ, Mercedes</text></g>
<g id="n213" class="n"><circle cx="437" cy="730" r="15"/><text x="444" y="722">VILLA, María Marta</text></g>
<g id="n214" class="n"><circle cx="457" cy="730" r="15"/></g>
<g id="n215" class="n"><circle cx="529" cy="748" r="15"/><text x="550" y="740">PELAYA, Lucía</text></g>
<g id="n216" class="n"><circle cx="594" cy="750" r="15"/><text x="611" y="745">HERRERA CORTES, Rocío</text></g>
<g id="n217" class="n"><circle cx="445" cy="776" r="15"/><text x="464" y="770">YEPES OSORIO, Luis Bernardo</text></g>
<g id="n218" class="n"><circle cx="599" cy="775" r="15"/><text x="619" y="774">OSPINA RUA, Diana</text></g>
<g id="n219" class="n"><circle cx="467" cy="800" r="15"/><text x="489" y="791">RODRIGUES DA SILVA, Alessandra</text></g>
<g id="n220" class="n"><circle cx="454" cy="816" r="15"/></g>
<g id="n221" class="n"><circle cx="475" cy="820" r="15"/><text x="492" y="809">VÁSQUEZ QUIJANO, Narty Julieth</text></g>
<g id="n222" class="n"><circle cx="595" cy="845" r="15"/><text x="617" y="834">LLORENS, Juan</text></g>
<g id="n223" class="n"><circle cx="719" cy="830" r="15"/><text x="740" y="820">SOBRADO, Ariel</text></g>
<g id="n225" class="n"><circle cx="803" cy="803" r="15"/><text x="825" y="791">TABORDA ORTIZ, Jair Gonzalo</text></g>
<g id="n224" class="n"><circle cx="800" cy="785" r="15"/><text x="824" y="781">WILLIAM, Martín</text></g>
<g id="n226" class="n"><circle cx="477" cy="881" r="15"/><text x="497" y="869">CASTAÑEDA PEÑA, Harold</text></g>
<g id="n227" class="n"><circle cx="697" cy="888" r="15"/><text x="700" y="881">GONZALEZ CASTRO, Jaime Alberto</text></g>
<g id="n228" class="n"><circle cx="660" cy="883" r="15"/><text x="684" y="871">SUÁREZ DE LA TORRE, María Mercedes</text></g>
<g id="n229" class="n"><circle cx="1061" cy="633" r="15"/><text x="1082" y="621">GALLÓN, Luciano</text></g>
<g id="n230" class="n"><circle cx="1144" cy="613" r="15"/></g>
<g id="n231" class="n"><circle cx="1174" cy="646" r="15"/><text x="1196" y="635">CEBALLOS AGUILAR, Rosa Elena</text></g>
<g id="n232" class="n"><circle cx="892" cy="673" r="15"/><text x="912" y="662">FRÍAS GUZMÁN,Maylin</text></g>
<g id="n233" class="n"><circle cx="1247" cy="690" r="15"/><text x="1269" y="679">PATIÑO, Luz Marina</text></g>
<g id="n234" class="n"><circle cx="1202" cy="698" r="15"/><text x="1224" y="689">HOYOS, Demetrio AF. Guillermo</text></g>
<g id="n235" class="n"><circle cx="1228" cy="705" r="15"/><text x="1250" y="700">CHAVES, Edwin S</text></g>
<g id="n236" class="n"><circle cx="1144" cy="713" r="15"/><text x="1164" y="702">RIOS, Fabián</text></g>
<g id="n237" class="n"><circle cx="1112" cy="716" r="15"/></g>
<g id="n238" class="n"><circle cx="1121" cy="736" r="15"/><text x="1145" y="724">RAMÍREZ MARÍN, Gabriel Jaime</text></g>
<g id="n239" class="n"><circle cx="1226" cy="740" r="15"/><text x="1300" y="692">ACEVEDO, Margarita María</text><text x="1283" y="716">VELÁSQUEZ, Margarita María</text><text x="1290" y="729">CARVALHO, Ademar</text></g>
<g id="n240" class="n"><circle cx="902" cy="731" r="15"/><text x="922" y="720">SOSA SAURE, Hilda</text></g>
<g id="n241" class="n"><circle cx="949" cy="738" r="15"/><text x="971" y="730">SOLER MONREAL, Concha</text></g>
<g id="n242" class="n"><circle cx="897" cy="765" r="15"/><text x="919" y="756">TECUATL QUECHOL, Graciela</text></g>
<g id="n243" class="n"><circle cx="909" cy="790" r="15"/><text x="929" y="778">JARAMILLO CADAVID, José Roberto</text></g>
<g id="n244" class="n"><circle cx="1121" cy="800" r="15"/><text x="1141" y="789">LOPEZ GARCÍA, Alba Nubia</text></g>
<g id="n245" class="n"><circle cx="1297" cy="783" r="15"/><text x="1318" y="772">PINTO, Adilson Luiz</text></g>
<g id="n246" class="n"><circle cx="1310" cy="808" r="15"/><text x="1337" y="797">MARTÍNEZ MÁRQUEZ, Wilmar Arley</text></g>
<g id="n247" class="n"><circle cx="962" cy="831" r="15"/><text x="984" y="820">ACOSTA HOYOS, Luis Eduardo</text></g>
<g id="n248" class="n"><circle cx="917" cy="851" r="15"/><text x="939" y="840">LAFONTANT MEDARD, Michaelle</text></g>
<g id="n249" class="n"><circle cx="1092" cy="858" r="15"/><text x="1114" y="847">SOLORZANO, Laura Inés</text></g>
<g id="n250" class="n"><circle cx="1044" cy="880" r="15"/><text x="1066" y="868">VERA PEÑA, Tania</text></g>
<g id="n251" class="n"><circle cx="921" cy="613" r="15"/></g>
<g id="n252" class="n"><circle cx="1360" cy="648" r="15"/><text x="1380" y="637">MUNERA TORRES, María Teresa</text></g>
<g id="n253" class="n"><circle cx="1471" cy="695" r="15"/><text x="1493" y="684">ARANZAZU ÁLVAREZ, Jorge</text></g>
<g id="n254" class="n"><circle cx="1480" cy="726" r="15"/><text x="1501" y="714">LEÓN SANTOS, Magda</text></g>
<g id="n255" class="n"><circle cx="1440" cy="775" r="15"/><text x="1460" y="764">RUA R., Iván</text></g>
<g id="n256" class="n"><circle cx="1403" cy="853" r="15"/><text x="1423" y="843">GÓMEZ, Biviana</text></g>
</g>
</svg>
